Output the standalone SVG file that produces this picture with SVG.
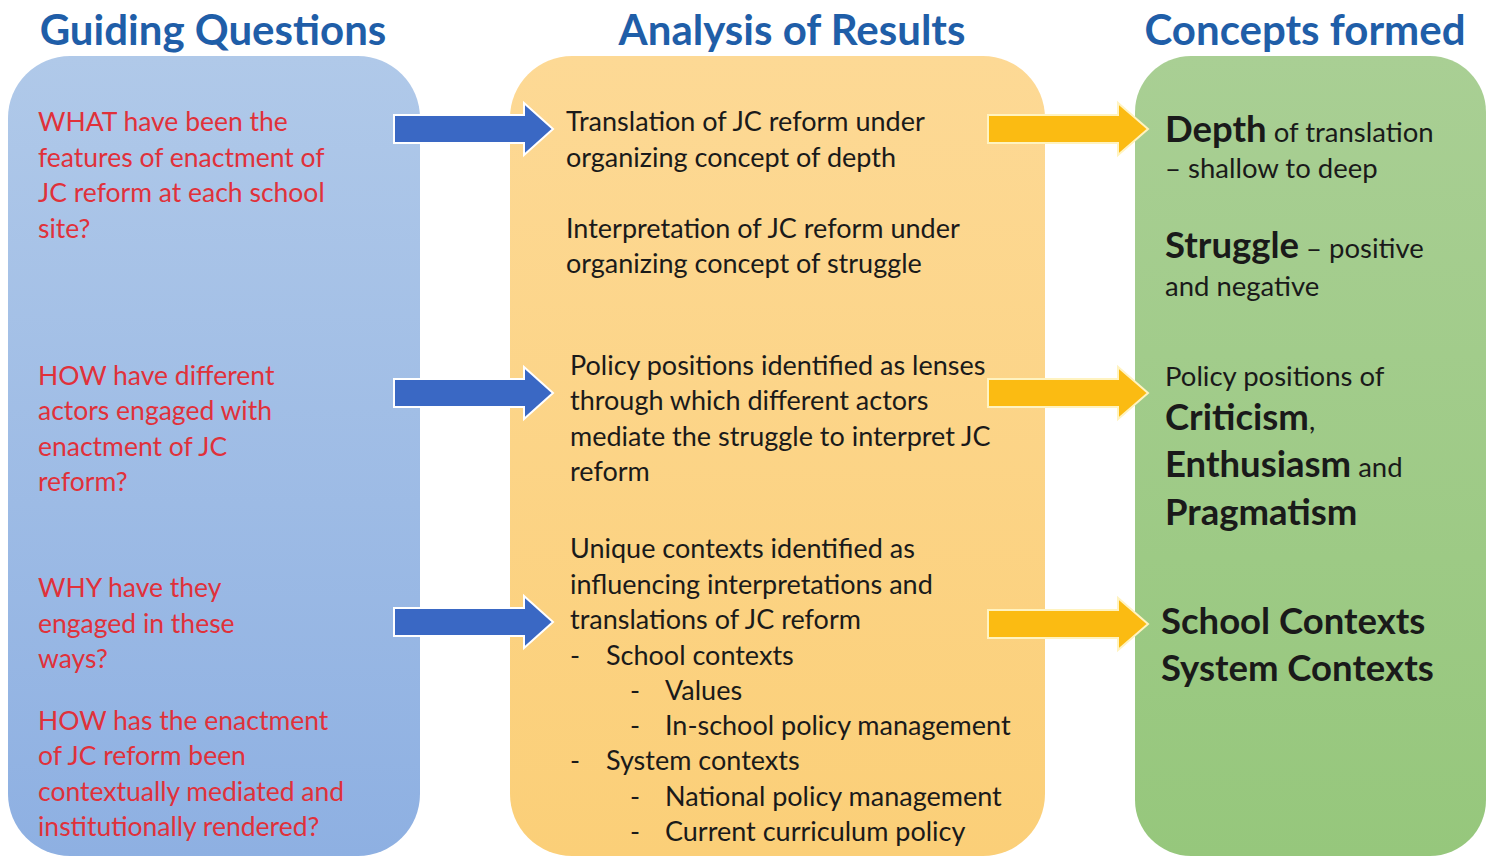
<svg xmlns="http://www.w3.org/2000/svg" width="1488" height="856" viewBox="0 0 1488 856">
<defs>
<linearGradient id="gBlue" x1="0" y1="0" x2="0" y2="1">
<stop offset="0" stop-color="#b0c9e9"/><stop offset="1" stop-color="#8eb0e2"/>
</linearGradient>
<linearGradient id="gOrange" x1="0" y1="0" x2="0" y2="1">
<stop offset="0" stop-color="#fdd995"/><stop offset="1" stop-color="#fbcf78"/>
</linearGradient>
<linearGradient id="gGreen" x1="0" y1="0" x2="0" y2="1">
<stop offset="0" stop-color="#a9cf94"/><stop offset="1" stop-color="#96c77c"/>
</linearGradient>
<style>
.title{font-family:Lato,"Liberation Sans",sans-serif;font-weight:bold;font-size:42px;fill:#1f5ea8;text-anchor:middle}
.q{font-family:Lato,"Liberation Sans",sans-serif;font-size:26.5px;fill:#e0313a}
.m{font-family:Lato,"Liberation Sans",sans-serif;font-size:27px;fill:#1a1a1a}
.c{font-family:Lato,"Liberation Sans",sans-serif;font-size:27.5px;fill:#1a1a1a}
.cb{font-weight:bold;font-size:36.5px}
.blueArrow{fill:#3a68c4;stroke:#ffffff;stroke-width:2}
.orangeArrow{fill:#fbbb12;stroke:#fff3c0;stroke-width:2}
</style>
</defs>
<rect width="1488" height="856" fill="#ffffff"/>

<g id="col-questions">
<rect x="8" y="56" width="412" height="800" rx="62" fill="url(#gBlue)"/>
<text class="title" x="213" y="45">Guiding Questions</text>
<text class="q"><tspan x="38" y="131">WHAT have been the</tspan><tspan x="38" y="167">features of enactment of</tspan><tspan x="38" y="202">JC reform at each school</tspan><tspan x="38" y="238">site?</tspan></text>
<text class="q"><tspan x="38" y="385">HOW have different</tspan><tspan x="38" y="420">actors engaged with</tspan><tspan x="38" y="456">enactment of JC</tspan><tspan x="38" y="491">reform?</tspan></text>
<text class="q"><tspan x="38" y="597">WHY have they</tspan><tspan x="38" y="633">engaged in these</tspan><tspan x="38" y="668">ways?</tspan></text>
<text class="q"><tspan x="38" y="730">HOW has the enactment</tspan><tspan x="38" y="765">of JC reform  been</tspan><tspan x="38" y="801">contextually mediated and</tspan><tspan x="38" y="836">institutionally rendered?</tspan></text>
</g>

<g id="col-analysis">
<rect x="510" y="56" width="535" height="800" rx="62" fill="url(#gOrange)"/>
<text class="title" x="792" y="45">Analysis of Results</text>
<text class="m"><tspan x="566" y="131">Translation of JC reform under</tspan><tspan x="566" y="167">organizing concept of depth</tspan></text>
<text class="m"><tspan x="566" y="238">Interpretation of JC reform under</tspan><tspan x="566" y="273">organizing concept of struggle</tspan></text>
<text class="m"><tspan x="570" y="375">Policy positions identified as lenses</tspan><tspan x="570" y="410">through which different actors</tspan><tspan x="570" y="446">mediate the struggle to interpret JC</tspan><tspan x="570" y="481">reform</tspan></text>
<text class="m"><tspan x="570" y="558">Unique contexts identified as</tspan><tspan x="570" y="594">influencing interpretations and</tspan><tspan x="570" y="629">translations of JC reform</tspan></text>
<text class="m"><tspan x="570" y="665">-</tspan><tspan x="606" y="665">School contexts</tspan><tspan x="630" y="700">-</tspan><tspan x="665" y="700">Values</tspan><tspan x="630" y="735">-</tspan><tspan x="665" y="735">In-school policy management</tspan><tspan x="570" y="770">-</tspan><tspan x="606" y="770">System contexts</tspan><tspan x="630" y="806">-</tspan><tspan x="665" y="806">National policy management</tspan><tspan x="630" y="841">-</tspan><tspan x="665" y="841">Current curriculum policy</tspan></text>
</g>

<g id="col-concepts">
<rect x="1135" y="56" width="351" height="800" rx="56" fill="url(#gGreen)"/>
<text class="title" x="1305" y="45">Concepts formed</text>
<text class="c"><tspan x="1165" y="142" class="cb">Depth</tspan><tspan> of translation</tspan><tspan x="1165" y="178">– shallow to deep</tspan></text>
<text class="c"><tspan x="1165" y="258" class="cb">Struggle</tspan><tspan>  – positive</tspan><tspan x="1165" y="296">and negative</tspan></text>
<text class="c"><tspan x="1165" y="386">Policy positions of</tspan><tspan x="1165" y="430" class="cb">Criticism</tspan><tspan>,</tspan><tspan x="1165" y="477" class="cb">Enthusiasm</tspan><tspan> and</tspan><tspan x="1165" y="525" class="cb">Pragmatism</tspan></text>
<text class="c cb"><tspan x="1161" y="634">School Contexts</tspan><tspan x="1161" y="681">System Contexts</tspan></text>
</g>

<g id="connectors">
<path class="blueArrow" d="M394,115 H524 V103 L553,129 L524,155 V143 H394 Z"/>
<path class="blueArrow" d="M394,379 H524 V367 L553,393 L524,419 V407 H394 Z"/>
<path class="blueArrow" d="M394,608 H524 V596 L553,622 L524,648 V636 H394 Z"/>
<path class="orangeArrow" d="M988,115 H1118 V103 L1148,129 L1118,155 V143 H988 Z"/>
<path class="orangeArrow" d="M988,379 H1118 V367 L1148,393 L1118,419 V407 H988 Z"/>
<path class="orangeArrow" d="M988,610 H1118 V598 L1148,624 L1118,650 V638 H988 Z"/>
</g>
</svg>
